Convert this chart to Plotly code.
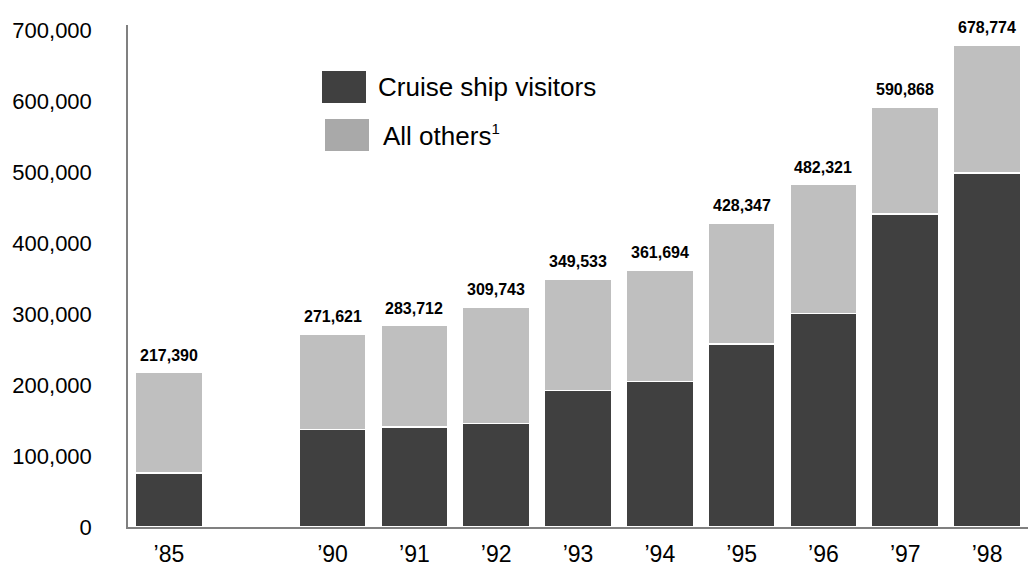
import plotly.graph_objects as go

years = ["\u201985", " ", "\u201990", "\u201991", "\u201992", "\u201993", "\u201994",
         "\u201995", "\u201996", "\u201997", "\u201998"]
totals = [217390, None, 271621, 283712, 309743, 349533, 361694, 428347, 482321, 590868, 678774]
cruise = [76000, None, 137000, 141000, 146000, 192000, 205000, 258000, 301000, 441000, 498500]
others = [t - c if t is not None else None for t, c in zip(totals, cruise)]
total_labels = [f"{t:,}" if t is not None else "" for t in totals]
tick_years = [y for y in years if y.strip()]

DARK = "#404040"
LIGHT = "#bfbfbf"
FONT = "Liberation Sans, Arial, sans-serif"

fig = go.Figure()
fig.add_trace(go.Bar(x=years, y=cruise, name="Cruise ship visitors",
                     marker=dict(color=DARK, line=dict(color="white", width=1.5))))
fig.add_trace(go.Bar(x=years, y=others, name="All others",
                     marker=dict(color=LIGHT, line=dict(color="white", width=1.5))))

for x, t, lab in zip(years, totals, total_labels):
    if t is None:
        continue
    fig.add_annotation(x=x, y=t, text=f"<b>{lab}</b>", showarrow=False,
                       yanchor="bottom", yshift=7,
                       font=dict(family=FONT, size=16, color="#000000"))

# manual legend
fig.add_shape(type="rect", xref="paper", yref="paper",
              x0=(322-128)/900, x1=(366-128)/900, y0=(527-103)/502, y1=(527-71)/502,
              fillcolor=DARK, line=dict(width=0))
fig.add_shape(type="rect", xref="paper", yref="paper",
              x0=(325-128)/900, x1=(369-128)/900, y0=(527-151)/502, y1=(527-119)/502,
              fillcolor="#a9a9a9", line=dict(width=0))
fig.add_annotation(xref="paper", yref="paper", x=(376-128)/900, y=(527-87)/502,
                   xanchor="left", yanchor="middle", showarrow=False,
                   text="Cruise ship visitors", font=dict(family=FONT, size=26, color="#000"))
fig.add_annotation(xref="paper", yref="paper", x=(381-128)/900, y=(527-135)/502,
                   xanchor="left", yanchor="middle", showarrow=False,
                   text="All others<sup><span style='font-size:15px'>1</span></sup>",
                   font=dict(family=FONT, size=26, color="#000"))

fig.update_layout(
    barmode="stack", bargap=0.18,
    width=1030, height=569,
    margin=dict(l=128, r=2, t=25, b=42),
    paper_bgcolor="white", plot_bgcolor="white",
    showlegend=False,
    font=dict(family=FONT, size=22, color="#000"),
)
fig.update_xaxes(type="category", categoryorder="array", categoryarray=years,
                 tickvals=tick_years, ticktext=tick_years, automargin=False,
                 showline=True, linecolor="#808080", linewidth=1.5,
                 ticks="", showgrid=False, tickfont=dict(size=23),
                 ticklabelstandoff=6)
fig.update_yaxes(range=[0, 707000], tickvals=[0, 100000, 200000, 300000, 400000, 500000, 600000, 700000],
                 tickformat=",d", showline=True, linecolor="#808080", linewidth=1.5,
                 ticks="", showgrid=False, zeroline=False, tickfont=dict(size=22),
                 ticklabelstandoff=30, automargin=False)

fig.write_html("out.html", post_script="document.body.style.margin='0';",
               config={"displayModeBar": False})
